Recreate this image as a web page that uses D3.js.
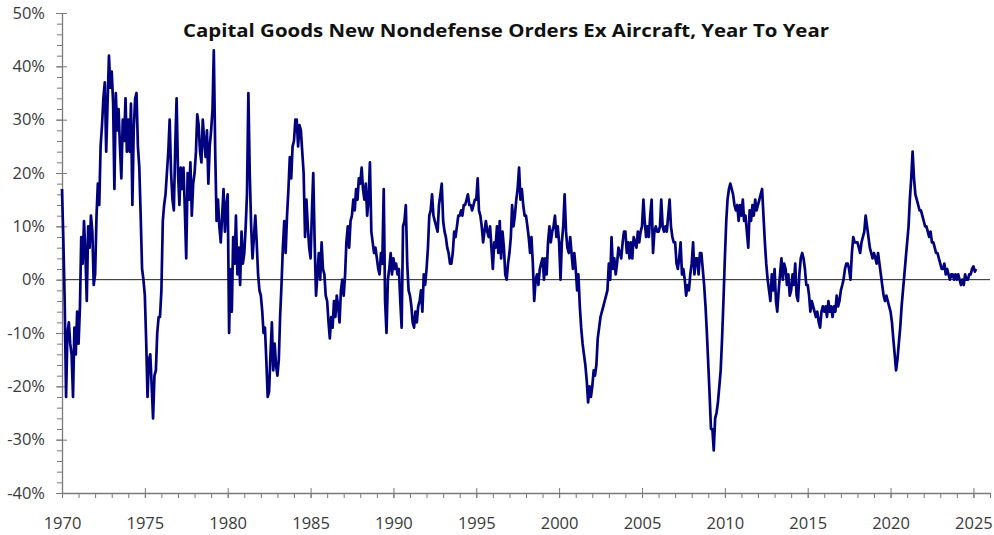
<!DOCTYPE html>
<html>
<head>
<meta charset="utf-8">
<script src="https://cdn.jsdelivr.net/npm/d3@7"></script>
<style>
  body { margin: 0; background: #fff; }
  svg { display: block; }
</style>
</head>
<body>
<div id="vis-container"></div>
<script>
// Monthly year-to-year change (%)
const d1970s = [
  17, 7, -4, -22, -10, -8, -12, -14, -22, -9, -14, -6,
  -12, -5, 8, 3, 11, 5, -4, 10, 6, 12, 9, -1,
  1, 12, 18, 14, 25, 29, 34, 37, 24, 33, 42, 36,
  39, 33, 17, 35, 28, 32, 25, 19, 30, 26, 34, 24,
  30, 24, 33, 14, 28, 34, 35, 25, 21, 12, 2, 0,
  -3, -12, -22, -15, -14, -20, -26, -18, -17, -10, -7, -7,
  -2, 11, 14, 16, 20, 24, 30, 20, 15, 13, 25, 34,
  20, 14, 21, 17, 21, 13, 4, 20, 15, 22, 12, 18,
  20, 24, 31, 29, 24, 22, 30, 26, 23, 28, 18, 25,
  28, 32, 43, 24, 11, 15, 10, 7, 12, 17, 9, 14
];
const d1980s = [
  16, -10, 2, -6, 8, 3, 12, 1, 6, -1, 9, 3,
  5, 10, 16, 35, 20, 10, 4, 8, 12, 7, 1, -2,
  -3, -6, -10, -9, -15, -22, -21, -14, -8, -17, -12, -16,
  -18, -15, -7, -1, 6, 11, 5, 12, 17, 23, 19, 25,
  26, 30, 30, 25, 29, 28, 24, 20, 8, 15, 10, 6,
  4, 13, 20, 7, -3, 1, 5, 0, 7, 2, 1, -3,
  -4, -8, -11, -7, -9, -4, -7, -3, -5, -8, -2, 0,
  -3, 1, 7, 10, 6, 11, 12, 15, 13, 17, 15, 19,
  18, 21, 17, 15, 18, 12, 15, 22, 9, 7, 5, 6,
  4, 2, 1, 5, 3, 17, -4, -10, 0, 2, 5, 1
];
const d1990s = [
  4, 2, 3, 1, 2, -4, -9, 10, 11, 14, 3, -2,
  -3, -5, -8, -9, -6, -8, -5, -4, -2, -6, 1, -1,
  2, 6, 12, 13, 16, 12, 11, 10, 9, 14, 16, 18,
  11, 9, 8, 6, 5, 3, 3, 5, 9, 8, 10, 12,
  12, 13, 12, 14, 14, 15, 16, 14, 14, 13, 14, 15,
  15, 19, 13, 12, 10, 7, 9, 11, 9, 8, 10, 6,
  2, 7, 6, 10, 5, 11, 4, 9, 6, 1, 0, 3,
  5, 8, 14, 10, 12, 15, 17, 21, 15, 17, 14, 12,
  12, 10, 8, 5, 8, 3, -4, 0, 1, -1, 2, 3,
  4, 0, 4, 1, 7, 10, 7, 9, 10, 12, 8, 10
];
const d2000s = [
  7, 0, 7, 10, 16, 9, 6, 5, 8, 5, 2, 5,
  2, -2, 1, -5, -9, -12, -14, -16, -19, -23, -20, -22,
  -20, -17, -18, -16, -11, -9, -7, -6, -5, -4, -3, -2,
  3, 0, 8, 2, 4, 1, 3, 6, 5, 4, 7, 9,
  9, 5, 7, 4, 7, 4, 8, 7, 6, 9, 7, 9,
  10, 15, 11, 8, 10, 8, 12, 15, 5, 9, 10, 9,
  9, 10, 15, 10, 9, 10, 9, 12, 15, 10, 8, 7,
  7, 3, 2, 4, 7, 1, 2, 0, -3, -1, -2, 1,
  3, 7, 1, 4, 4, 1, 5, 5, 2, -1, -5, -10,
  -16, -22, -28, -28, -32, -26, -25, -23, -20, -17, -11, -4
];
const d2010s = [
  4, 11, 15, 17, 18, 17, 16, 14, 13, 14, 11, 14,
  12, 15, 11, 12, 9, 6, 13, 11, 14, 12, 15, 13,
  14, 15, 16, 17, 12, 7, 3, 0, -2, -4, 1, -2,
  2, -4, -6, -2, 1, 4, 0, 3, 2, -1, 1, -3,
  -2, 1, -1, 3, -3, -4, 1, 4, 5, 4, 2, -1,
  -1, -3, -6, -4, -5, -6, -7, -6, -8, -9, -6, -5,
  -6, -5, -7, -4, -6, -5, -7, -5, -6, -3, -5, -4,
  -2, -1, 0, 2, 3, 3, 2, 0, 5, 8, 7, 7,
  7, 6, 5, 7, 8, 9, 12, 10, 8, 6, 5, 4,
  5, 4, 3, 5, 3, 1, -1, -3, -4, -3, -4, -5
];
const d2020s = [
  -6, -8, -11, -14, -17, -15, -12, -9, -5, -2, 1, 4,
  7, 10, 15, 19, 24, 19, 16, 15, 14, 13, 13, 12,
  11, 10, 10, 9, 8, 9, 7, 7, 6, 5, 5, 4,
  3, 2, 2, 3, 1, 2, 1, 0, 1, 1, 0, 1,
  0, 1, 0, -1, 0, -1, 1, 0, 0, 1, 1, 2,
  2.5, 1.5, 2
];

const yTicks = [-40, -30, -20, -10, 0, 10, 20, 30, 40, 50];
const xTickYears = [1970, 1975, 1980, 1985, 1990, 1995, 2000, 2005, 2010, 2015, 2020, 2025];
const title = "Capital Goods New Nondefense Orders Ex Aircraft, Year To Year";

const width = 994;
const height = 535;
const margin = { left: 62, right: 4, top: 13, bottom: 42 };
const axisColor = "#7a7a7a";
const labelColor = "#3a3a3a";

const allValues = [...d1970s, ...d1980s, ...d1990s, ...d2000s, ...d2010s, ...d2020s];
const data = allValues.map((v, i) => ({ date: new Date(1970, i, 1), value: v }));

const svg = d3.select("#vis-container")
  .append("svg")
  .attr("width", width)
  .attr("height", height);

svg.append("rect").attr("width", width).attr("height", height).attr("fill", "#fff");

const x = d3.scaleTime()
  .domain([new Date(1970, 0, 1), new Date(2026, 0, 1)])
  .range([margin.left, width - margin.right]);

const y = d3.scaleLinear()
  .domain([-40, 50])
  .range([height - margin.bottom, margin.top]);

// zero line
svg.append("line")
  .attr("x1", x.range()[0]).attr("x2", x.range()[1])
  .attr("y1", y(0)).attr("y2", y(0))
  .attr("stroke", "#222")
  .attr("stroke-width", 1);

// y axis minor ticks (every 2%)
svg.append("g")
  .attr("transform", `translate(${margin.left},0)`)
  .call(d3.axisLeft(y).tickValues(d3.range(-40, 51, 2)).tickSize(5).tickFormat(""))
  .call(g => g.select(".domain").remove())
  .call(g => g.selectAll("line").attr("stroke", axisColor));

// y axis with labels
svg.append("g")
  .attr("transform", `translate(${margin.left},0)`)
  .call(d3.axisLeft(y).tickValues(yTicks).tickSize(6).tickSizeOuter(0).tickPadding(11)
    .tickFormat(d => d + "%"))
  .call(g => g.select(".domain").attr("stroke", axisColor).attr("stroke-width", 1.3))
  .call(g => g.selectAll("line").attr("stroke", axisColor))
  .call(g => g.selectAll("text")
    .attr("fill", labelColor)
    .attr("font-family", "'Open Sans', sans-serif")
    .attr("font-size", "16.5px"));

// right half of major y ticks
svg.append("g")
  .attr("transform", `translate(${margin.left},0)`)
  .call(d3.axisRight(y).tickValues(yTicks).tickSize(5).tickFormat(""))
  .call(g => g.select(".domain").remove())
  .call(g => g.selectAll("line").attr("stroke", axisColor));

// x axis minor ticks (every year)
svg.append("g")
  .attr("transform", `translate(0,${height - margin.bottom})`)
  .call(d3.axisBottom(x).ticks(d3.timeYear.every(1)).tickSize(5).tickFormat(""))
  .call(g => g.select(".domain").remove())
  .call(g => g.selectAll("line").attr("stroke", axisColor));

// x axis with labels
svg.append("g")
  .attr("transform", `translate(0,${height - margin.bottom})`)
  .call(d3.axisBottom(x).tickValues(xTickYears.map(yr => new Date(yr, 0, 1)))
    .tickSize(5).tickSizeOuter(0).tickPadding(19).tickFormat(d3.timeFormat("%Y")))
  .call(g => g.select(".domain").attr("stroke", axisColor).attr("stroke-width", 1.3))
  .call(g => g.selectAll("line").attr("stroke", axisColor))
  .call(g => g.selectAll("text")
    .attr("fill", labelColor)
    .attr("font-family", "'Open Sans', sans-serif")
    .attr("font-size", "16.5px"));

// upper half of major x ticks
svg.append("g")
  .attr("transform", `translate(0,${height - margin.bottom})`)
  .call(d3.axisTop(x).tickValues(xTickYears.map(yr => new Date(yr, 0, 1))).tickSize(5).tickFormat(""))
  .call(g => g.select(".domain").remove())
  .call(g => g.selectAll("line").attr("stroke", axisColor));

// the series
const line = d3.line()
  .x(d => x(d.date))
  .y(d => y(d.value));

svg.append("path")
  .datum(data)
  .attr("fill", "none")
  .attr("stroke", "#00007f")
  .attr("stroke-width", 2.7)
  .attr("stroke-linejoin", "round")
  .attr("d", line);

// title
svg.append("text")
  .attr("x", 506)
  .attr("y", 37)
  .attr("text-anchor", "middle")
  .attr("font-family", "'Open Sans', sans-serif")
  .attr("font-weight", "bold")
  .attr("font-size", "18.5px")
  .attr("fill", "#111")
  .attr("textLength", 646)
  .attr("lengthAdjust", "spacingAndGlyphs")
  .text(title);
</script>
</body>
</html>
